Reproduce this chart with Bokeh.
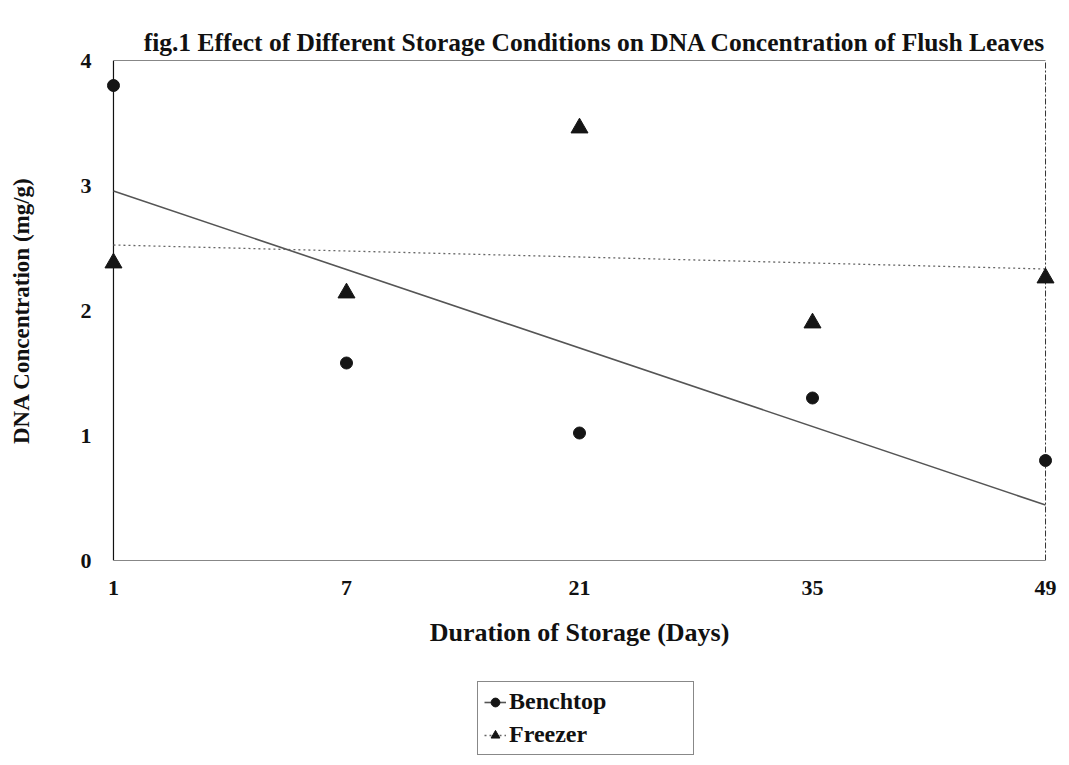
import numpy as np
from bokeh.plotting import figure
from bokeh.layouts import column
from bokeh.models import Range1d, FixedTicker, Legend, LegendItem
from bokeh.embed import file_html
from bokeh.resources import INLINE

days = ["1", "7", "21", "35", "49"]
benchtop = [3.80, 1.58, 1.02, 1.30, 0.80]
freezer = [2.38, 2.14, 3.46, 1.90, 2.26]
y_ticks = [0, 1, 2, 3, 4]

FONT = "Liberation Serif"
idx = list(range(len(days)))
pad = 0.06

p = figure(width=1069, height=660, output_backend="svg", toolbar_location=None,
           x_range=Range1d(-pad, idx[-1] + pad), y_range=Range1d(min(y_ticks), max(y_ticks)),
           min_border_left=99, min_border_right=10, min_border_top=60, min_border_bottom=100)
p.background_fill_color = "white"
p.border_fill_color = "white"
p.outline_line_color = None
p.xgrid.visible = False
p.ygrid.visible = False

p.title.text = "fig.1 Effect of Different Storage Conditions on DNA Concentration of Flush Leaves"
p.title.align = "right"
p.title.offset = 14
p.title.text_font = FONT
p.title.text_font_size = "25.5px"
p.title.text_font_style = "bold"
p.title.text_color = "#111111"
p.title.standoff = 8

for ax in (p.xaxis[0], p.yaxis[0]):
    ax.axis_line_color = None
    ax.major_tick_line_color = None
    ax.minor_tick_line_color = None
    ax.major_tick_out = 0
    ax.major_tick_in = 0
    ax.major_label_text_font = FONT
    ax.major_label_text_font_size = "22px"
    ax.major_label_text_font_style = "bold"
    ax.major_label_text_color = "#111111"
    ax.axis_label_text_font = FONT
    ax.axis_label_text_font_style = "bold"
    ax.axis_label_text_color = "#111111"

p.xaxis.ticker = FixedTicker(ticks=idx)
p.xaxis.major_label_overrides = {i: d for i, d in zip(idx, days)}
p.xaxis.major_label_standoff = 20
p.xaxis.axis_label = "Duration of Storage (Days)"
p.xaxis.axis_label_text_font_size = "26px"
p.xaxis.axis_label_standoff = 20

p.yaxis.ticker = FixedTicker(ticks=y_ticks)
p.yaxis.major_label_standoff = 8
p.yaxis.axis_label = "DNA Concentration (mg/g)"
p.yaxis.axis_label_text_font_size = "23px"
p.yaxis.axis_label_standoff = 44

# plot area border: left, bottom, top solid; right edge a lighter broken line
x0, x1 = idx[0], idx[-1]
y0, y1 = min(y_ticks), max(y_ticks)
p.segment(x0=[x0, x0, x0], y0=[y0, y0, y1], x1=[x0, x1, x1], y1=[y1, y0, y1],
          line_color="#111111", line_width=1.2)
p.segment(x0=[x1], y0=[y0], x1=[x1], y1=[y1], line_color="#333333", line_width=1,
          line_dash="6 2 2 2")

# linear trend lines (least squares over category index)
xb = np.array(idx, dtype=float)
mb, cb = np.polyfit(xb, benchtop, 1)
mf, cf = np.polyfit(xb, freezer, 1)
ends = [idx[0], idx[-1]]
TREND_B = dict(line_color="#555555", line_width=1.6)
TREND_F = dict(line_color="#666666", line_width=1.3, line_dash="2 3")
MARK_B = dict(marker="circle", size=12, fill_color="#151515", line_color="#151515")
MARK_F = dict(marker="triangle", size=17, fill_color="#151515", line_color="#151515")

p.line(ends, [cb + mb * e for e in ends], **TREND_B)
p.line(ends, [cf + mf * e for e in ends], **TREND_F)
p.scatter(idx, benchtop, **MARK_B)
p.scatter(idx, freezer, **MARK_F)

# legend panel below the chart (its renderers hold the series but lie outside its view)
lf = figure(width=1069, height=105, output_backend="svg", toolbar_location=None,
            x_axis_type=None, y_axis_type=None,
            x_range=Range1d(100, 101), y_range=Range1d(100, 101),
            min_border=0, min_border_left=0, min_border_right=0,
            min_border_top=0, min_border_bottom=0)
lf.outline_line_color = None
lf.xgrid.visible = False
lf.ygrid.visible = False
lf.background_fill_color = "white"
lf.border_fill_color = "white"
lb_line = lf.line(idx, benchtop, **TREND_B)
lb_mark = lf.scatter(idx, benchtop, **MARK_B)
lf_line = lf.line(idx, freezer, **TREND_F)
lf_mark = lf.scatter(idx, freezer, **MARK_F)

legend = Legend(items=[LegendItem(label="Benchtop", renderers=[lb_line, lb_mark]),
                       LegendItem(label="Freezer", renderers=[lf_line, lf_mark])],
                location=(378, 10), orientation="vertical")
legend.label_text_font = FONT
legend.label_text_font_size = "24px"
legend.label_text_font_style = "bold"
legend.label_text_color = "#111111"
legend.border_line_color = "#111111"
legend.border_line_width = 1
legend.background_fill_color = "white"
legend.glyph_width = 22
legend.glyph_height = 24
legend.label_standoff = 3
legend.label_height = 24
legend.label_width = 178
legend.padding = 6
legend.spacing = 6
legend.margin = 0
lf.add_layout(legend, "center")

open("out.html", "w").write(file_html(column(p, lf, spacing=0), INLINE))
